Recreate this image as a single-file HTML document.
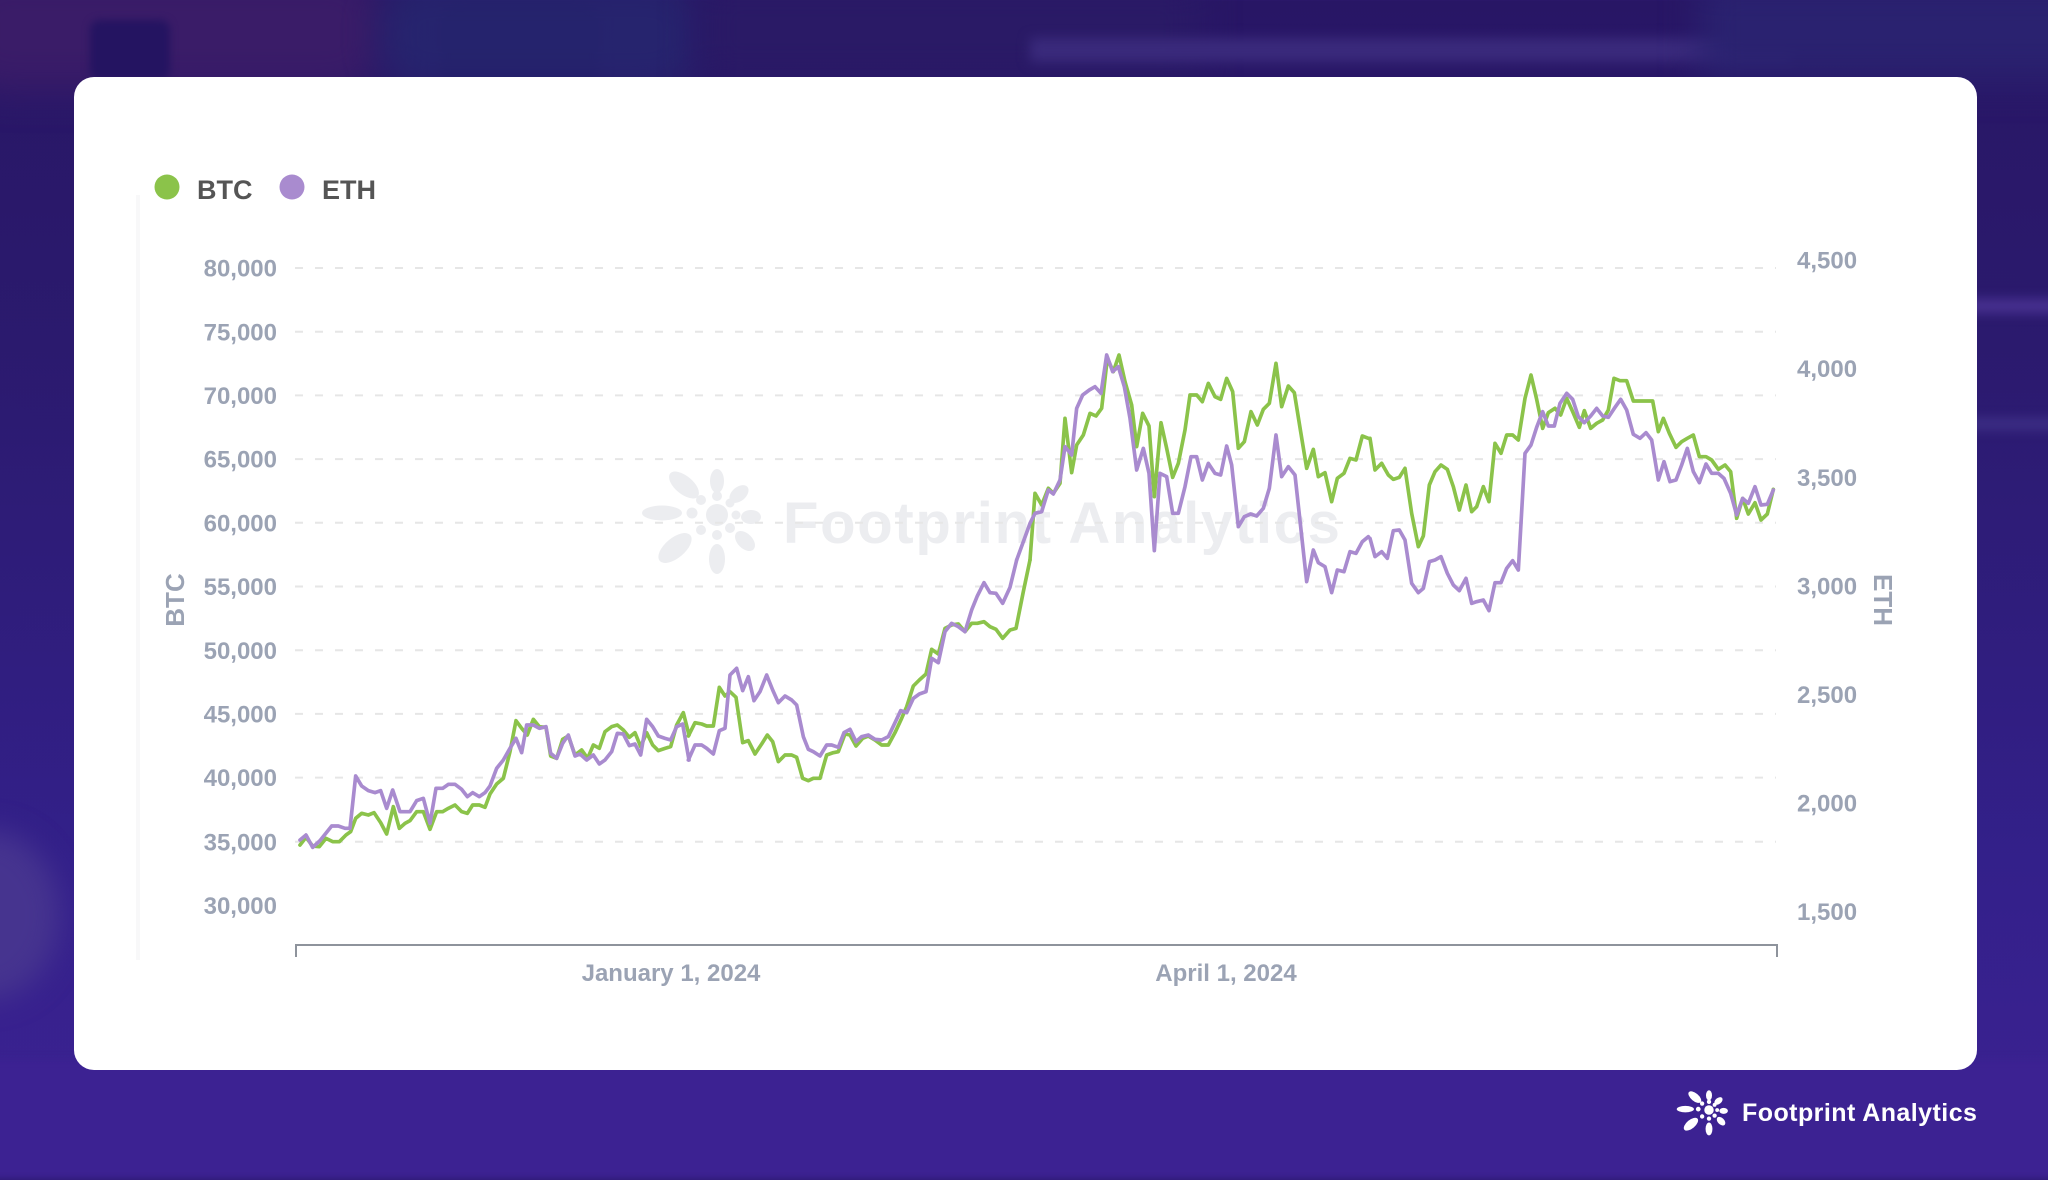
<!DOCTYPE html>
<html><head><meta charset="utf-8">
<style>
html,body{margin:0;padding:0}
body{width:2048px;height:1150px;overflow:hidden;position:relative;
background:linear-gradient(180deg,#281665 0%,#2b1a6e 30%,#33208a 75%,#3c2292 100%);
font-family:"Liberation Sans",sans-serif}
.bg{position:absolute;filter:blur(18px)}
#card{position:absolute;left:74px;top:77px;width:1903px;height:993px;background:#fff;border-radius:20px}
svg{position:absolute;left:0;top:0}
</style></head>
<body>
<div class="bg" style="left:-40px;top:-30px;width:420px;height:120px;background:#3a1c68;border-radius:40px"></div>
<div class="bg" style="left:90px;top:20px;width:80px;height:60px;background:#241461;border-radius:10px;filter:blur(4px)"></div>
<div class="bg" style="left:440px;top:0px;width:160px;height:90px;background:#241462;border-radius:20px;filter:blur(6px)"></div>
<div class="bg" style="left:380px;top:-20px;width:320px;height:110px;background:#262a72;border-radius:40px;opacity:.7"></div>
<div class="bg" style="left:700px;top:-20px;width:500px;height:100px;background:#2a1a66"></div>
<div class="bg" style="left:1030px;top:38px;width:760px;height:24px;background:#3a2a7c;filter:blur(6px)"></div>
<div class="bg" style="left:1700px;top:-20px;width:400px;height:100px;background:#2a2270"></div>
<div class="bg" style="left:1960px;top:300px;width:120px;height:12px;background:#4e3598;filter:blur(6px)"></div>
<div class="bg" style="left:1960px;top:420px;width:120px;height:8px;background:#45388f;filter:blur(6px)"></div>
<div class="bg" style="left:-90px;top:830px;width:150px;height:170px;background:#46348f;border-radius:50%;filter:blur(14px)"></div>
<div class="bg" style="left:-40px;top:1060px;width:2130px;height:120px;background:#3c2292;filter:blur(4px)"></div>
<div id="card"></div>
<svg width="2048" height="1150" viewBox="0 0 2048 1150" xmlns="http://www.w3.org/2000/svg">
<defs>
<g id="logo">
  <circle cx="0" cy="0" r="11"/>
  <circle cx="-16" cy="-15" r="5"/><circle cx="0" cy="-19" r="5"/><circle cx="13" cy="-12" r="4.5"/>
  <circle cx="19" cy="0" r="4.5"/><circle cx="13" cy="13" r="5"/><circle cx="0" cy="20" r="5"/>
  <circle cx="-16" cy="15" r="5"/><circle cx="-25" cy="-2" r="5.5"/>
  <ellipse cx="-55" cy="-2" rx="20" ry="7.5"/>
  <ellipse cx="-33" cy="-30" rx="18" ry="9" transform="rotate(40 -33 -30)"/>
  <ellipse cx="0" cy="-34" rx="7" ry="12"/>
  <ellipse cx="22" cy="-21" rx="11" ry="7" transform="rotate(-40 22 -21)"/>
  <ellipse cx="34" cy="2" rx="10" ry="7"/>
  <ellipse cx="28" cy="26" rx="12" ry="7.5" transform="rotate(45 28 26)"/>
  <ellipse cx="0" cy="44" rx="8" ry="15"/>
  <ellipse cx="-42" cy="33" rx="20" ry="10" transform="rotate(-40 -42 33)"/>
</g>
</defs>

<!-- faint left strip -->
<rect x="136" y="195" width="4" height="765" fill="#f8f8f9"/>

<!-- watermark -->
<g fill="#ecedf0"><use href="#logo" transform="translate(717,515)"/></g>
<text x="783" y="543" font-size="58" font-weight="bold" fill="#ecedf0" letter-spacing="1.7">Footprint Analytics</text>

<!-- gridlines -->
<g stroke="#e6e6e6" stroke-width="2" stroke-dasharray="8 12">
<line x1="295" x2="1776" y1="268" y2="268"/>
<line x1="295" x2="1776" y1="331.7" y2="331.7"/>
<line x1="295" x2="1776" y1="395.4" y2="395.4"/>
<line x1="295" x2="1776" y1="459.1" y2="459.1"/>
<line x1="295" x2="1776" y1="522.8" y2="522.8"/>
<line x1="295" x2="1776" y1="586.5" y2="586.5"/>
<line x1="295" x2="1776" y1="650.2" y2="650.2"/>
<line x1="295" x2="1776" y1="713.9" y2="713.9"/>
<line x1="295" x2="1776" y1="777.6" y2="777.6"/>
<line x1="295" x2="1776" y1="841.8" y2="841.8"/>
</g>

<!-- axis -->
<path d="M296,957 V945 H1777 V957" fill="none" stroke="#8e939c" stroke-width="2"/>

<!-- left labels -->
<g font-size="24" font-weight="bold" fill="#9ba3b4" text-anchor="end">
<text x="277" y="276.6">80,000</text>
<text x="277" y="340.3">75,000</text>
<text x="277" y="404">70,000</text>
<text x="277" y="467.7">65,000</text>
<text x="277" y="531.4">60,000</text>
<text x="277" y="595.1">55,000</text>
<text x="277" y="658.8">50,000</text>
<text x="277" y="722.5">45,000</text>
<text x="277" y="786.2">40,000</text>
<text x="277" y="850.4">35,000</text>
<text x="277" y="914">30,000</text>
</g>
<!-- right labels -->
<g font-size="24" font-weight="bold" fill="#9ba3b4">
<text x="1797" y="268.6">4,500</text>
<text x="1797" y="377.2">4,000</text>
<text x="1797" y="485.8">3,500</text>
<text x="1797" y="594.4">3,000</text>
<text x="1797" y="703">2,500</text>
<text x="1797" y="811.6">2,000</text>
<text x="1797" y="920.2">1,500</text>
</g>
<!-- axis titles -->
<text transform="translate(184,600) rotate(-90)" text-anchor="middle" font-size="26" font-weight="bold" fill="#9ba3b4">BTC</text>
<text transform="translate(1874,600) rotate(90)" text-anchor="middle" font-size="26" font-weight="bold" fill="#9ba3b4">ETH</text>
<!-- x labels -->
<g font-size="24" font-weight="bold" fill="#9ba3b4" text-anchor="middle">
<text x="671" y="981">January 1, 2024</text>
<text x="1226" y="981">April 1, 2024</text>
</g>

<!-- legend -->
<circle cx="167" cy="187" r="12.5" fill="#8bc34a"/>
<text x="197" y="199" font-size="27" font-weight="bold" fill="#555">BTC</text>
<circle cx="292" cy="187" r="12.5" fill="#a98bcf"/>
<text x="322" y="199" font-size="27" font-weight="bold" fill="#555">ETH</text>

<!-- BTC series -->
<g fill="none" stroke="#8bc34a" stroke-width="11" stroke-linejoin="round" stroke-linecap="round">
<polyline transform="translate(290,630) scale(0.33333)" points="30,645 48,622 68,648 88,650 108,625 128,635 148,635 168,615 182,605 197,565 215,550 235,555 252,548 272,578 290,612 310,530 328,595 345,580 360,572 380,545 400,545 420,598 440,545 458,545 475,535 495,525 515,545 532,550 548,525 568,525 585,532 600,492 620,462 640,445 660,365 678,272 695,295 712,315 730,268 748,290 768,292 782,378 800,385 818,328 835,318 855,375 875,360 893,385 910,345 928,355 945,305 965,290 982,285 1000,300 1018,322 1035,308 1052,350 1070,308 1088,345 1105,362 1125,355 1142,350 1160,285 1180,248 1197,315"/>
<polyline transform="translate(680,560) scale(0.33333)" points="25,528 45,488 65,492 80,498 100,498 118,382 135,408 150,395 168,412 188,548 205,542 225,582 245,552 262,525 278,545 295,605 315,585 335,585 350,592 368,655 385,662 400,655 420,655 440,585 460,578 475,575 495,522 510,525 528,558 548,535 565,528 585,540 605,555 625,555 645,518 665,475 680,440 700,378 718,360 738,342 755,268 775,282 795,205 815,195 835,192 855,215 875,190 892,190 912,185 930,200 948,208 968,235 990,210 1008,205 1030,95 1050,0"/>
<polyline transform="translate(1030,340) scale(0.33333)" points="0,660 15,460 35,495 55,445 70,460 90,430 105,235 125,398 140,315 160,285 180,220 198,228 215,205 232,55 250,95 267,45 285,125 305,195 320,320 338,220 357,258 373,470 393,248 410,325 428,412 445,370 465,270 480,165 500,165 517,185 535,130 555,170 572,178 590,115 608,155 625,325 643,305 663,215 682,255 700,208 718,190 738,70 755,200 775,138 793,158 812,275 830,385 850,328 865,410 885,398 905,485 922,415 942,400 960,355 978,360 997,288 1015,295"/>
<polyline transform="translate(1370,340) scale(0.33333)" points="0,295 15,390 35,370 55,405 70,418 88,412 105,385 125,520 145,620 160,588 178,435 195,395 213,375 232,388 250,440 268,510 288,435 305,515 320,500 340,440 357,485 375,310 393,340 410,285 428,285 445,300 465,175 483,105 500,178 518,265 535,218 555,205 572,225 590,175 608,215 628,262 643,212 662,265 680,250 698,240 715,210 732,115 750,122 770,122 790,183 810,183 830,183 848,183 865,275 880,235 898,280 918,322 935,305 952,295 970,285 988,350 1008,350 1025,360 1045,388 1065,375 1082,395 1100,535 1118,475 1135,522 1155,488 1173,540 1192,522 1210,448"/>
</g>

<!-- ETH series -->
<g fill="none" stroke="#a98bcf" stroke-width="11" stroke-linejoin="round" stroke-linecap="round">
<polyline transform="translate(290,630) scale(0.33333)" points="30,630 48,615 68,652 90,632 125,588 145,588 165,595 180,595 197,438 215,468 235,482 255,488 272,482 290,535 308,480 330,545 360,545 380,512 400,505 420,580 438,475 458,475 475,463 495,463 515,478 532,500 548,488 568,500 585,488 600,468 620,415 640,390 660,355 678,325 695,368 710,285 730,285 748,295 768,290 782,370 800,385 818,340 835,315 855,378 870,372 890,390 910,375 928,402 945,390 965,365 982,310 1000,312 1018,347 1035,342 1052,375 1070,268 1088,290 1105,318 1125,325 1142,330 1160,290 1178,282 1197,390"/>
<polyline transform="translate(680,560) scale(0.33333)" points="25,600 45,555 65,555 80,565 100,582 118,512 135,505 150,345 170,325 188,392 205,350 222,422 240,395 260,345 278,390 295,428 315,408 335,420 350,435 370,530 385,568 400,575 420,588 440,555 455,555 475,562 492,518 510,508 528,545 545,530 565,525 585,538 605,540 625,530 645,488 662,452 680,458 700,415 718,402 738,395 755,295 775,308 795,215 815,190 835,200 855,215 875,150 892,108 912,68 930,98 948,100 968,130 990,82 1010,0"/>
<polyline transform="translate(1030,340) scale(0.33333)" points="-40,660 0,550 15,520 35,515 55,450 70,462 90,420 105,320 125,345 140,205 158,165 178,150 195,140 213,160 230,45 248,95 265,80 283,140 300,235 320,390 340,325 357,400 373,632 390,400 410,410 428,520 445,520 465,440 483,350 500,350 517,420 535,370 555,400 572,405 590,318 605,375 625,560 643,530 662,522 680,528 700,505 718,445 738,285 755,410 775,380 795,405 812,560 830,725 850,630 865,668 885,680 905,758 922,690 942,695 960,635 978,640 997,605 1015,590"/>
<polyline transform="translate(1370,340) scale(0.33333)" points="0,595 15,650 35,635 52,655 70,572 88,570 105,600 125,730 145,758 160,745 178,665 195,660 213,650 232,700 250,735 268,752 288,715 305,790 320,785 340,780 357,812 375,728 393,728 410,685 428,662 445,690 465,340 483,315 500,262 518,215 535,258 553,258 570,190 590,160 608,178 625,230 643,248 662,228 680,205 698,228 715,232 733,205 752,178 770,210 790,283 810,295 828,278 845,300 865,420 882,365 900,425 918,420 935,375 952,325 970,395 988,428 1008,372 1025,400 1045,400 1062,415 1082,460 1100,525 1118,475 1135,490 1155,440 1173,495 1192,493 1210,450"/>
</g>

<!-- bottom-right logo -->
<g fill="#ffffff"><use href="#logo" transform="translate(1709,1110) scale(0.43)"/></g>
<text x="1742" y="1121" font-size="25" font-weight="bold" fill="#ffffff" letter-spacing="0.45">Footprint Analytics</text>
</svg>
</body></html>
